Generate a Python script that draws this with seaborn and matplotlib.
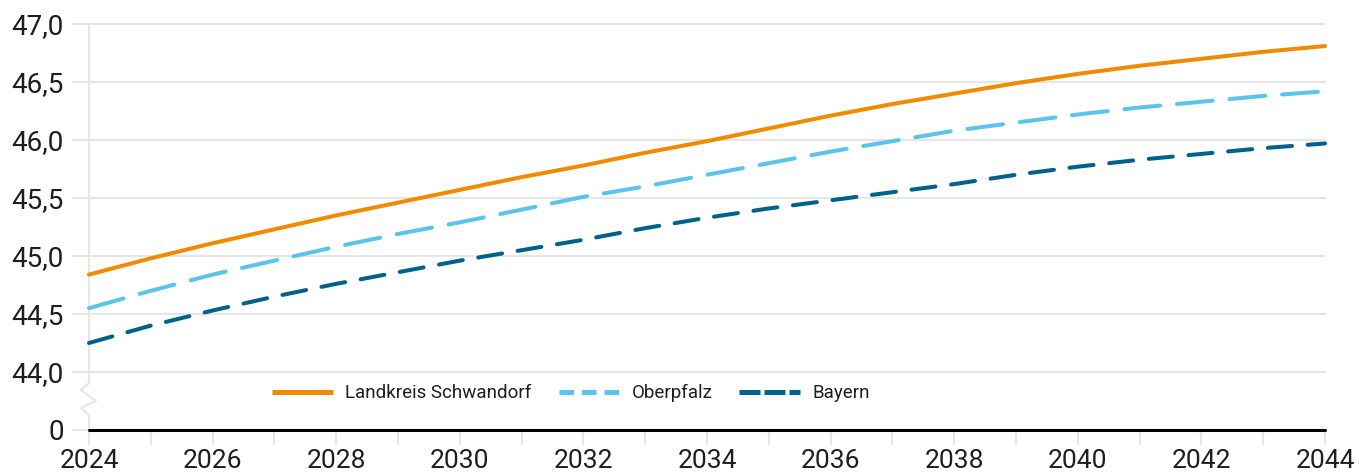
"""
Durchschnittsalter 2024-2044: Landkreis Schwandorf, Oberpfalz, Bayern
"""

import pandas as pd
import matplotlib.pyplot as plt
import seaborn as sns
from matplotlib.lines import Line2D

years = list(range(2024, 2045))

schwandorf = [44.84, 44.98, 45.11, 45.23, 45.35, 45.46, 45.57, 45.68, 45.78, 45.89, 45.99,
              46.10, 46.21, 46.31, 46.40, 46.49, 46.57, 46.64, 46.70, 46.76, 46.81]
oberpfalz = [44.55, 44.70, 44.84, 44.96, 45.08, 45.19, 45.29, 45.40, 45.51, 45.60, 45.70,
             45.80, 45.90, 45.99, 46.08, 46.15, 46.22, 46.28, 46.33, 46.38, 46.42]
bayern = [44.25, 44.40, 44.53, 44.65, 44.76, 44.86, 44.96, 45.05, 45.14, 45.24, 45.33,
          45.41, 45.48, 45.55, 45.62, 45.70, 45.77, 45.83, 45.88, 45.93, 45.97]

series_names = ['Landkreis Schwandorf', 'Oberpfalz', 'Bayern']
colors = {'Landkreis Schwandorf': '#F28A00', 'Oberpfalz': '#5BC4EC', 'Bayern': '#00628B'}

y_ticks = [43.5, 44.0, 44.5, 45.0, 45.5, 46.0, 46.5, 47.0]
y_labels = ['0', '44,0', '44,5', '45,0', '45,5', '46,0', '46,5', '47,0']

df = pd.DataFrame({
    'Jahr': years * 3,
    'Wert': schwandorf + oberpfalz + bayern,
    'Gebiet': [n for n in series_names for _ in years],
})

sns.set_theme(style='white')
plt.rcParams['font.family'] = ['Roboto', 'DejaVu Sans']
plt.rcParams['lines.dash_capstyle'] = 'round'
plt.rcParams['lines.solid_capstyle'] = 'round'

grid_col = '#e6e6e6'
text_col = '#1e1e1e'

fig = plt.figure(figsize=(13.59, 4.76), dpi=100)
ax = fig.add_axes([89 / 1359, 46 / 476, 1236 / 1359, 406 / 476])

ax.set_xlim(2024, 2044)
ax.set_ylim(43.5, 47.0)

# horizontal grid
for t in y_ticks[1:]:
    ax.axhline(t, color=grid_col, lw=1.5, zorder=0, clip_on=False)

# vertical axis line with break (zigzag)
ax.plot([2024, 2024], [47.0, 43.905], color=grid_col, lw=1.5, clip_on=False, zorder=1)
ax.plot([2024, 2023.87, 2024.11, 2023.87, 2024],
        [43.905, 43.845, 43.75, 43.69, 43.63],
        color=grid_col, lw=1.5, clip_on=False, zorder=1)
ax.plot([2024, 2024], [43.63, 43.5], color=grid_col, lw=1.5, clip_on=False, zorder=1)

sns.lineplot(data=df, x='Jahr', y='Wert', hue='Gebiet', style='Gebiet',
             palette=colors,
             dashes={'Landkreis Schwandorf': '', 'Oberpfalz': (8.9, 4.2), 'Bayern': (6.0, 3.9)},
             lw=2.9, ax=ax, legend=False, clip_on=False, zorder=3)

# baseline
ax.axhline(43.5, color='black', lw=2.2, zorder=4, clip_on=False)

for s in ax.spines.values():
    s.set_visible(False)

ax.set_yticks(y_ticks)
ax.set_yticklabels(y_labels)
ax.set_xticks(years[::2])
ax.set_xticklabels([str(y) for y in years[::2]])
ax.set_xticks(years[1::2], minor=True)
ax.tick_params(axis='y', which='major', length=12, width=1.5, color=grid_col,
               labelsize=20, labelcolor=text_col, pad=6, left=True)
ax.tick_params(axis='x', which='both', length=10.5, width=1.5, color=grid_col,
               labelsize=19, labelcolor=text_col, pad=3, bottom=True)
ax.set_xlabel('')
ax.set_ylabel('')

handles = [
    Line2D([], [], color=colors['Landkreis Schwandorf'], lw=3.6, solid_capstyle='butt'),
    Line2D([], [], color=colors['Oberpfalz'], lw=3.6, dash_capstyle='butt', linestyle=(0, (2.9, 1.6))),
    Line2D([], [], color=colors['Bayern'], lw=3.6, dash_capstyle='butt', linestyle=(0, (4.2, 0.8))),
]
leg = ax.legend(handles, series_names, loc='center', bbox_to_anchor=(0.39, 0.091),
                ncol=3, frameon=False, fontsize=13.5, handlelength=3.25,
                handletextpad=0.64, columnspacing=1.44)
for t in leg.get_texts():
    t.set_color(text_col)

plt.savefig('out.png', dpi=100)
plt.close()
